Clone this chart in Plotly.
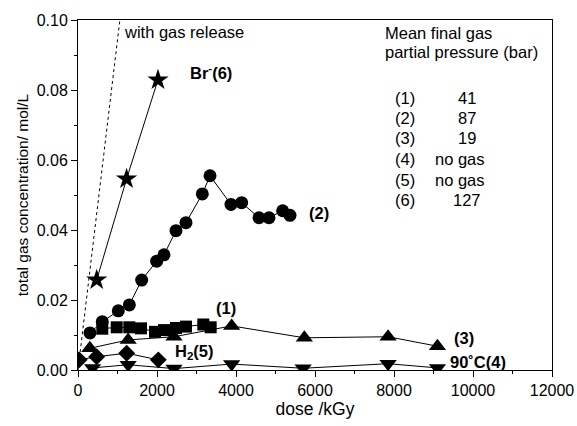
import plotly.graph_objects as go

# ---- data ----
dose_6 = [473, 1230, 2025]
conc_6 = [0.0257, 0.0546, 0.0829]

dose_2 = [304, 615, 1020, 1300, 1612, 1992, 2177, 2481, 2734, 3147, 3342, 3873, 4143, 4582, 4835, 5181, 5367]
conc_2 = [0.0106, 0.0138, 0.0169, 0.0186, 0.0257, 0.0311, 0.0329, 0.0398, 0.0421, 0.0503, 0.0555, 0.0473, 0.0478, 0.0435, 0.0435, 0.0455, 0.0442]

dose_1 = [615, 980, 1299, 1595, 1949, 2177, 2481, 2734, 3172, 3359]
conc_1 = [0.0118, 0.0122, 0.0122, 0.0119, 0.0109, 0.0114, 0.0120, 0.0124, 0.0130, 0.0122]

dose_3 = [300, 1270, 2430, 3890, 5730, 7850, 9100]
conc_3 = [0.0062, 0.0086, 0.0095, 0.0126, 0.0092, 0.0095, 0.0068]

dose_4 = [370, 1270, 2430, 3890, 5700, 7850, 9100]
conc_4 = [0.0006, 0.0015, 0.0004, 0.0017, 0.0005, 0.0018, 0.0006]

dose_5 = [30, 473, 1232, 2033]
conc_5 = [0.0029, 0.0038, 0.0048, 0.0029]

release_dose = [0, 1060]
release_conc = [0.0, 0.10]

x_ticks = [0, 2000, 4000, 6000, 8000, 10000, 12000]
y_ticks = [0.00, 0.02, 0.04, 0.06, 0.08, 0.10]

table_ids = ["(1)", "(2)", "(3)", "(4)", "(5)", "(6)"]
table_vals = ["41", "87", "19", "no gas", "no gas", "127"]

FONT = "Liberation Sans, Arial, sans-serif"

fig = go.Figure()

fig.add_trace(go.Scatter(x=release_dose, y=release_conc, mode="lines",
                         line=dict(color="black", width=1, dash="dot")))

def add_series(xs, ys, symbol, size):
    fig.add_trace(go.Scatter(
        x=xs, y=ys, mode="lines+markers",
        line=dict(color="black", width=1),
        marker=dict(symbol=symbol, size=size, color="black",
                    line=dict(width=0)),
        cliponaxis=True))

add_series(dose_5, conc_5, "diamond", 13)
add_series(dose_4, conc_4, "triangle-down", 15)
add_series(dose_3, conc_3, "triangle-up", 15)
add_series(dose_1, conc_1, "square", 12)
add_series(dose_2, conc_2, "circle", 13)
add_series(dose_6, conc_6, "star", 16)

ann = []
def label(x, y, text, bold=False, xanchor="left"):
    ann.append(dict(x=x, y=y, xref="x", yref="y", text=f"<b>{text}</b>" if bold else text,
                    showarrow=False, xanchor=xanchor, yanchor="middle",
                    font=dict(family=FONT, size=16.5, color="black")))

label(1114, 0.0966, "with gas release")
label(2785, 0.0851, "Br<sup>-</sup>(6)", bold=True)
label(5797, 0.0449, "(2)", bold=True)
label(3443, 0.0177, "(1)", bold=True)
label(2405, 0.0051, "H<sub>2</sub>(5)", bold=True)
label(9468, 0.0091, "(3)", bold=True)
label(9367, 0.0023, "90˚C(4)", bold=True)
label(7722, 0.0963, "Mean final gas")
label(7722, 0.0909, "partial pressure (bar)")

row_y = [0.0777, 0.0720, 0.0663, 0.0603, 0.0543, 0.0486]
for i, (tid, val) in enumerate(zip(table_ids, table_vals)):
    label(7975, row_y[i], tid)
    if val == "no gas":
        label(8987, row_y[i], val)
    else:
        label(9848, row_y[i], val, xanchor="center")

fig.update_layout(
    width=577, height=426,
    margin=dict(l=78, r=25, t=20, b=56),
    paper_bgcolor="white", plot_bgcolor="white",
    showlegend=False,
    font=dict(family=FONT, size=16, color="black"),
    annotations=ann,
)
fig.update_xaxes(range=[0, 12000], tickvals=x_ticks, ticktext=[str(v) for v in x_ticks],
                 ticks="outside", ticklen=6, tickwidth=1, tickcolor="black",
                 minor=dict(dtick=1000, ticks="outside", ticklen=3, tickcolor="black"),
                 showline=True, linecolor="black", linewidth=1, mirror=True,
                 showgrid=False, zeroline=False, automargin=False,
                 title=dict(text="dose /kGy", font=dict(size=17.5), standoff=4),
                 tickfont=dict(size=16))
fig.update_yaxes(range=[0, 0.10], tickvals=y_ticks, ticktext=[f"{v:.2f}" for v in y_ticks],
                 ticks="outside", ticklen=6, tickwidth=1, tickcolor="black",
                 minor=dict(dtick=0.01, ticks="outside", ticklen=3, tickcolor="black"),
                 showline=True, linecolor="black", linewidth=1, mirror=True,
                 showgrid=False, zeroline=False, automargin=False,
                 title=dict(text="total gas concentration/ mol/L", font=dict(size=15.5), standoff=4),
                 tickfont=dict(size=16))

fig.write_html("out.html", config={"displayModeBar": False},
               post_script="document.body.style.margin='0';document.body.style.overflow='hidden';")
